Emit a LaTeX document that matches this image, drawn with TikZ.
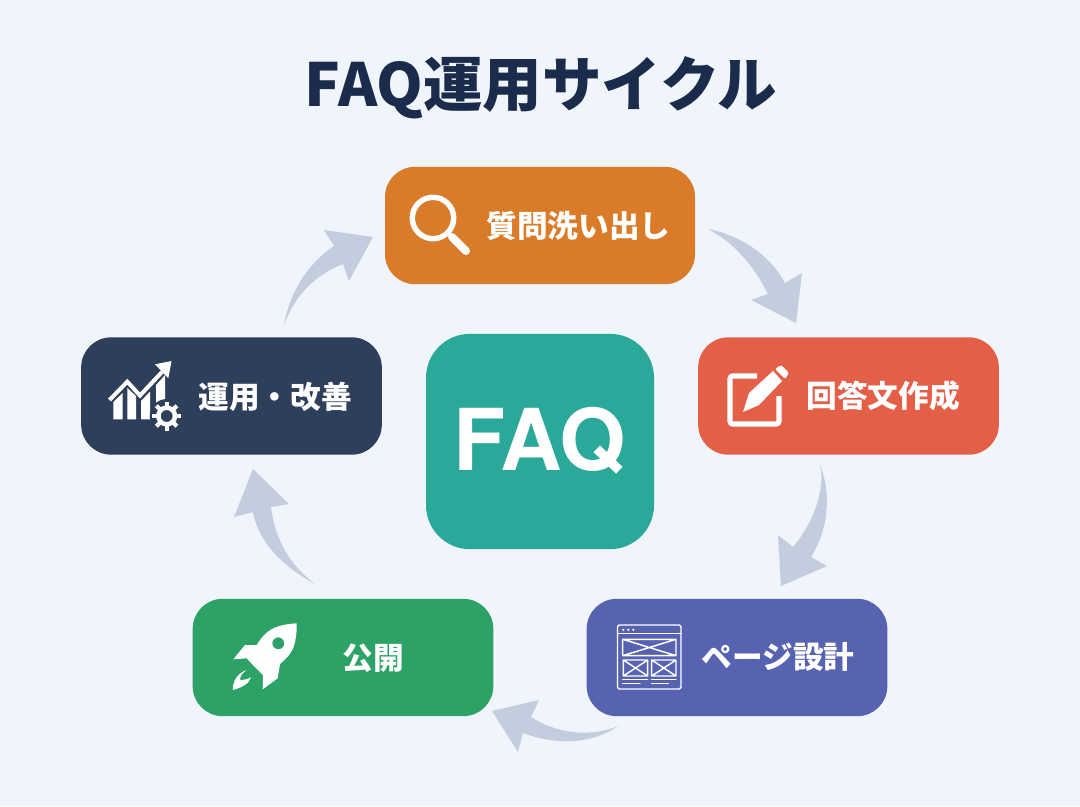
\documentclass[tikz,border=0pt]{standalone}
\usepackage{fontspec}
\setmainfont{Noto Sans CJK JP}
\newfontfamily\latinbold{TeX Gyre Heros}
\definecolor{bgc}{HTML}{F0F4FB}
\definecolor{titlec}{HTML}{1B2B4B}
\definecolor{arrowc}{HTML}{C4CDDD}
\definecolor{orangec}{HTML}{D97B28}
\definecolor{redc}{HTML}{E35F47}
\definecolor{indigoc}{HTML}{5763B0}
\definecolor{greenc}{HTML}{2CA266}
\definecolor{navyc}{HTML}{2E3F5C}
\definecolor{tealc}{HTML}{2AA899}
\tikzset{
  stepbox/.style={rectangle,rounded corners=22.5pt,inner sep=0pt,minimum width=225.5pt,minimum height=88pt,fill=#1},
  steplabel/.style={text=white,inner sep=0pt,font=\fontsize{23}{25}\selectfont\bfseries},
  cyclearrow/.style={fill=arrowc,draw=none},
  iconline/.style={draw=white,line width=1.1pt,line join=round,line cap=round},
  iconfill/.style={fill=white,draw=none}
}
\begin{document}
\begin{tikzpicture}[x=0.75pt,y=-0.75pt]
\useasboundingbox (0,0) rectangle (1080,806);
\fill[bgc] (0,0) rectangle (1080,806);
\node[inner sep=0pt,text=titlec,font=\fontsize{44.6}{47}\selectfont\bfseries] (title) at (541,88) {FAQ運用サイクル};

% centre
\node[rectangle,rounded corners=33pt,inner sep=0pt,minimum width=171pt,minimum height=161.5pt,fill=tealc] (center) at (540,441.5) {};
\node[inner sep=0pt,text=white,font=\latinbold\bfseries\fontsize{64}{66}\selectfont] (centerlabel) at (539.5,441) {FAQ};

% steps
\node[stepbox=orangec,minimum width=232.5pt] (s1) at (540,225.5) {};
\node[stepbox=redc] (s2) at (848.5,396) {};
\node[stepbox=indigoc] (s3) at (737,657.5) {};
\node[stepbox=greenc] (s4) at (343,657.5) {};
\node[stepbox=navyc] (s5) at (231.5,396) {};
\node[steplabel] (l1) at (578.5,226) {質問洗い出し};
\node[steplabel] (l2) at (883,396) {回答文作成};
\node[steplabel] (l3) at (778,657) {ページ設計};
\node[steplabel] (l4) at (373,658) {公開};
\node[steplabel] (l5) at (275,397) {運用・改善};

% cycle arrows
\coordinate (a1s) at (708,229); \coordinate (a1e) at (796,323);
\coordinate (a2s) at (820,465); \coordinate (a2e) at (781,586);
\coordinate (a3s) at (618,726); \coordinate (a3e) at (492,711);
\coordinate (a4s) at (315,584); \coordinate (a4e) at (253,469);
\coordinate (a5s) at (284,325); \coordinate (a5e) at (373,237);
\fill[cyclearrow] (a1s) .. controls (740,235) and (770,255) .. (785,283) -- (802,273) -- (a1e) -- (751,300) -- (768,294) .. controls (755,268) and (735,243) .. (a1s) -- cycle;
\fill[cyclearrow] (a2s) .. controls (832,495) and (828,530) .. (811,557) -- (827,566) -- (a2e) -- (778,535) -- (793,547) .. controls (812,525) and (826,490) .. (a2s) -- cycle;
\fill[cyclearrow] (a3s) .. controls (590,745) and (555,745) .. (523,733) -- (518,752) -- (a3e) -- (539,700) -- (531,717) .. controls (555,733) and (590,738) .. (a3s) -- cycle;
\fill[cyclearrow] (a4s) .. controls (280,565) and (258,540) .. (253,512) -- (234,517) -- (a4e) -- (289,504) -- (271,507) .. controls (275,540) and (290,565) .. (a4s) -- cycle;
\fill[cyclearrow] (a5s) .. controls (290,290) and (310,262) .. (334,246) -- (324,230) -- (a5e) -- (349,281) -- (343,264) .. controls (315,275) and (295,295) .. (a5s) -- cycle;

% magnifier
\draw[white,line width=4.1pt] (433,218) circle (20.7);
\draw[white,line width=6pt,line cap=round] (452,237) -- (466,251);

% pencil and square
\draw[iconline,line width=3.9pt,rounded corners=2pt,line cap=butt] (757,376) -- (730,376) -- (730,424) -- (779,424) -- (779,396);
\fill[iconfill] (743,412) -- (749,393) -- (773,371) -- (782,381) -- (759,405) -- cycle;
\fill[iconfill,rounded corners=1pt] (775,369) -- (781,365) -- (789,373) -- (785,379) -- cycle;

% wireframe
\draw[iconline,rounded corners=1.2pt] (617.5,625) rectangle (681,689);
\draw[iconline] (617.5,633.5) -- (681,633.5);
\fill[iconfill] (623.3,629.8) circle (1.2) (628.3,629.8) circle (1.2) (633.3,629.8) circle (1.2);
\draw[iconline] (622.7,639.3) rectangle (676,655.7) (622.7,639.3) -- (676,655.7) (622.7,655.7) -- (676,639.3);
\draw[iconline] (623.3,660) rectangle (647.7,676) (623.3,660) -- (647.7,676) (623.3,676) -- (647.7,660);
\draw[iconline] (651.7,660) rectangle (676,676) (651.7,660) -- (676,676) (651.7,676) -- (676,660);
\draw[iconline] (622.7,679.3) -- (647.7,679.3) (651.7,679.3) -- (676,679.3) (622.7,683.7) -- (640,683.7) (651.7,683.7) -- (668.3,683.7);

% rocket
\fill[iconfill,even odd rule] (296.7,623.3) .. controls (287,624) and (280,625) .. (272,629) .. controls (266,632) and (261,638) .. (256.7,645)
  -- (245,645) -- (233.3,659.3) -- (246.7,658.3) -- (253.3,665.5) -- (263,675) -- (262.7,689.3) -- (277.7,678.3) -- (280,664)
  .. controls (286,659) and (291,654) .. (294,646) .. controls (296,639) and (297,631) .. (296.7,623.3) -- cycle
  (278.3,643.3) circle (6);
\fill[iconfill] (232.7,690) .. controls (233,682) and (236,674) .. (246.7,670) .. controls (241,674) and (240,677) .. (240,680) .. controls (244,680) and (248,679) .. (251,677.3) .. controls (249,684) and (241,688) .. (232.7,690) -- cycle;

% chart and gear
\fill[iconfill] (113.3,402) -- (122.7,393) -- (122.7,419.3) -- (113.3,419.3) -- cycle;
\fill[iconfill] (127.3,388) -- (136,396) -- (136,419.3) -- (127.3,419.3) -- cycle;
\fill[iconfill] (141,401) -- (150,391.5) -- (150,419.3) -- (141,419.3) -- cycle;
\fill[iconfill] (156,385) -- (165,375) -- (165,406.7) -- (156,406.7) -- cycle;
\draw[iconline,line width=3pt,line cap=butt,line join=miter] (109.5,400) -- (127.3,381.7) -- (140,395.5) -- (162,372);
\fill[iconfill] (171.5,361) -- (155,364.3) -- (168.3,378.3) -- cycle;
\fill[navyc] (166.7,416) circle (17);
\draw[white,line width=3.4pt] (166.7,416) circle (8.3);
\foreach \ang in {0,45,...,315}
  \draw[white,line width=3.2pt] (166.7,416) ++(\ang:9) -- ++(\ang:5.5);

\end{tikzpicture}
\end{document}
